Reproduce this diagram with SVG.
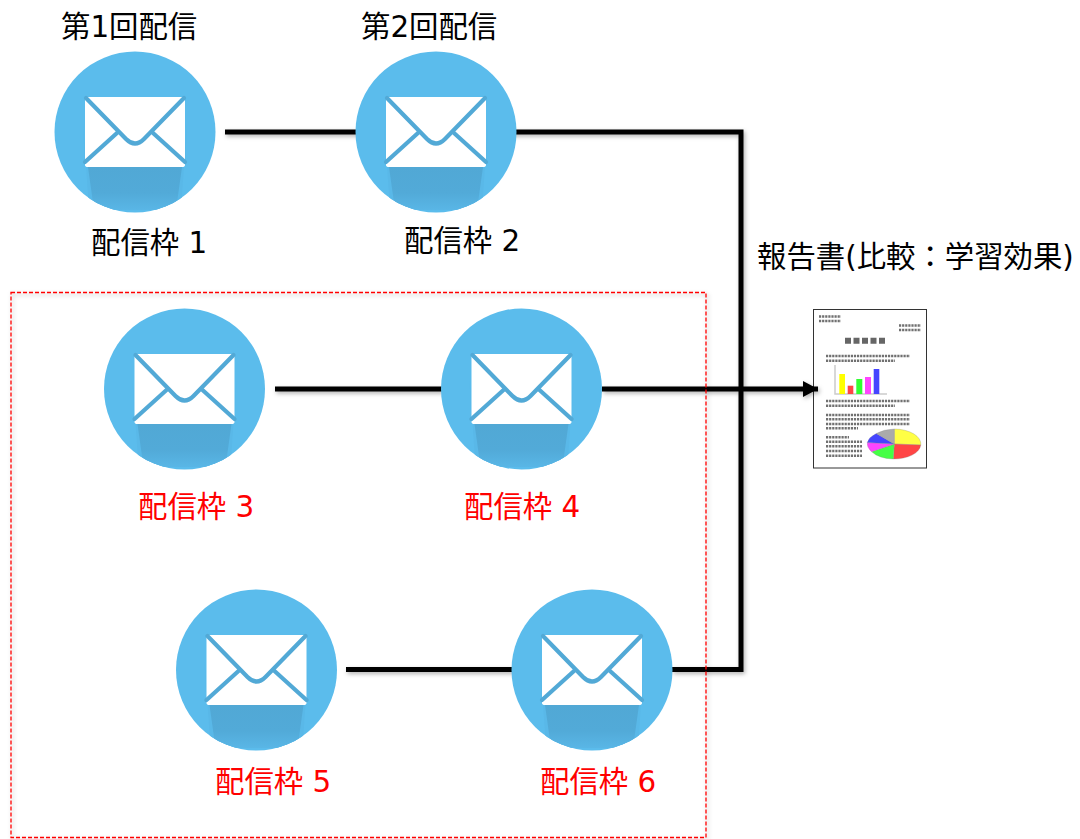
<svg xmlns="http://www.w3.org/2000/svg" width="1080" height="839" viewBox="0 0 1080 839">
<style>
text{font-family:"DejaVu Sans","Noto Sans CJK JP",sans-serif;font-size:29.4px;fill:#000}
.red{fill:#f00}
.conn{fill:none;stroke:#000;stroke-width:5}
.tx{fill:none;stroke:#6f6f6f;stroke-width:2.6;stroke-dasharray:2.2 .9}
.bar{stroke:none}
</style>
<defs>
<filter id="sh" filterUnits="userSpaceOnUse" x="0" y="0" width="1080" height="839"><feDropShadow dx="1.5" dy="2" stdDeviation="2" flood-color="#000" flood-opacity=".3"/></filter>
<filter id="bl" filterUnits="userSpaceOnUse" x="800" y="300" width="140" height="175"><feGaussianBlur stdDeviation=".5"/></filter>
<clipPath id="cc"><circle r="80.5"/></clipPath>
<linearGradient id="fade" x1="0" y1="0" x2="0" y2="1"><stop offset="0" stop-color="#51a8d5"/><stop offset=".6" stop-color="#52aad8"/><stop offset="1" stop-color="#59b6e6"/></linearGradient>
<marker id="arr" markerUnits="userSpaceOnUse" markerWidth="18" markerHeight="18" refX="15" refY="8" orient="auto"><path d="M0 0L15 8L0 16z" fill="#000"/></marker>
<g id="mail">
<circle r="80.5" fill="#5bbcec"/>
<g clip-path="url(#cc)">
<path d="M-50 35L-52 -10L-46 78L46 78L52 -10L50 35z" fill="#59b8e8"/>
<path d="M-47 35L47 35L41 78L-41 78z" fill="url(#fade)"/>
</g>
<path d="M-50 -33Q-50 -35 -47 -35L47 -35Q50 -35 50 -33L50 33Q50 35 47 35L-47 35Q-50 35 -50 33z" fill="#fff"/>
<g fill="none" stroke="#52a9d6" stroke-width="4.200" stroke-linecap="round">
<path d="M-49 -34L-9 7Q0 16 9 7L49 -34"/>
<path d="M-50 30L-18 1M50 30L18 1"/>
</g>
</g>
</defs>
<g id="report">
<text x="757" y="267">報告書(比較：学習効果)</text>
<rect x="813.500" y="309.500" width="113" height="158.500" fill="#fff" stroke="#333" stroke-width="1"/>
<g filter="url(#bl)">
<path class="tx" d="M819 316.500H841M819 321H841M899 325.500H921M899 330H921"/>
<path class="tx" d="M826 356H910M826 360.700H895M826 401H910M826 405.700H895M826 415H910M826 419.300H910M826 424H910M826 428.300H858M826 437.300H849M826 441.700H862M826 446.300H862M826 451H862M826 455.700H862"/>
<path fill="none" stroke="#666" stroke-width="6" stroke-dasharray="6 2.500" d="M845 340.700H887"/>
<path d="M835 365V394H887" fill="none" stroke="#ccc" stroke-width="1.500"/>
<rect class="bar" x="839.300" y="374" width="5.700" height="20" fill="#ff0"/>
<rect class="bar" x="847.700" y="385.700" width="5.600" height="8.300" fill="#f44"/>
<rect class="bar" x="856.300" y="379" width="6" height="15" fill="#3f3"/>
<rect class="bar" x="865" y="377" width="6" height="17" fill="#f4f"/>
<rect class="bar" x="873.700" y="369" width="5.600" height="25" fill="#44f"/>
<g transform="translate(894.300 444)" stroke="#888" stroke-width=".3">
<path d="M0 0V-15A27 15 0 0 1 26.500 1z" fill="#ff4"/>
<path d="M0 0L26.500 1A27 15 0 0 1 -1 15z" fill="#f44"/>
<path d="M0 0L-1 15A27 15 0 0 1 -22.700 7.700z" fill="#4f4"/>
<path d="M0 0L-22.700 7.700A27 15 0 0 1 -27 -1.500z" fill="#f4f"/>
<path d="M0 0L-27 -1.500A27 15 0 0 1 -18 -10.500z" fill="#44f"/>
<path d="M0 0L-18 -10.500A27 15 0 0 1 0 -15z" fill="#aaa"/>
</g>
</g>
</g>
<g id="connectors" filter="url(#sh)">
<path class="conn" d="M225 132H741V669.500H672"/>
<path class="conn" d="M346 669.500H520"/>
<path class="conn" d="M275 389H450"/>
<path class="conn" marker-end="url(#arr)" d="M602 389H818"/>
</g>
<g id="frame" filter="url(#sh)"><rect x="11" y="292.500" width="695" height="545" fill="none" stroke="#f00" stroke-width="1.300" stroke-dasharray="4 2"/></g>
<g id="node1"><use href="#mail" x="135" y="132"/><text x="61" y="37">第1回配信</text><text x="91" y="253">配信枠 1</text></g>
<g id="node2"><use href="#mail" x="436" y="132"/><text x="361" y="37">第2回配信</text><text x="404" y="251">配信枠 2</text></g>
<g id="node3"><use href="#mail" x="184.500" y="389"/><text class="red" x="138" y="517">配信枠 3</text></g>
<g id="node4"><use href="#mail" x="521.500" y="389"/><text class="red" x="464" y="517">配信枠 4</text></g>
<g id="node5"><use href="#mail" x="256.500" y="670"/><text class="red" x="215" y="792">配信枠 5</text></g>
<g id="node6"><use href="#mail" x="592" y="670"/><text class="red" x="540" y="792">配信枠 6</text></g>
</svg>
